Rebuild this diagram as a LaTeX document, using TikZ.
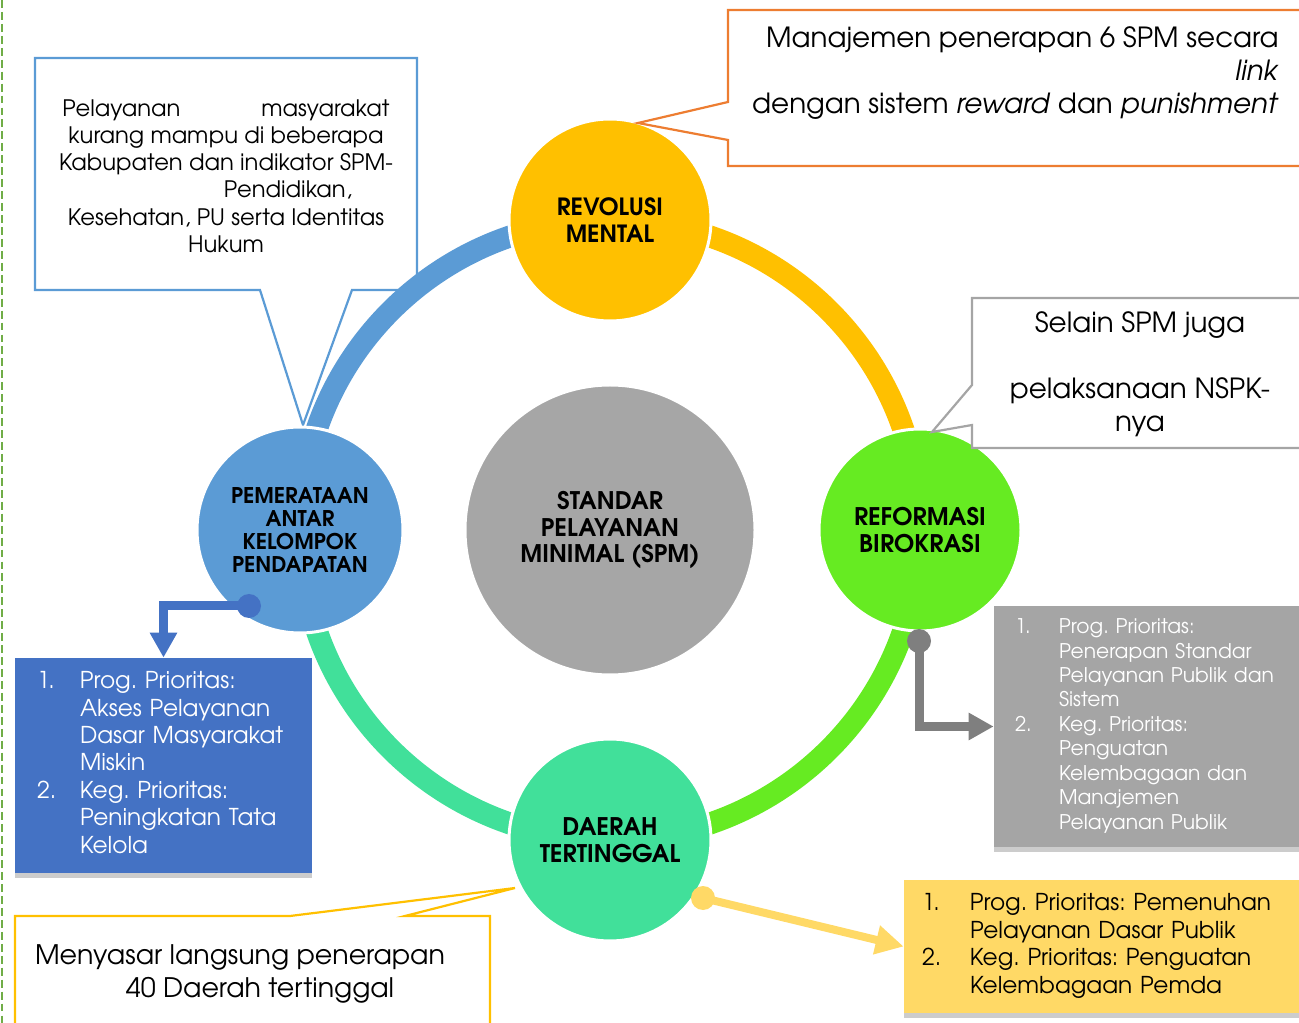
\documentclass[tikz,border=0pt]{standalone}
\usepackage{fontspec}
\setmainfont{TeX Gyre Adventor}
\usetikzlibrary{arrows.meta,shadows}
\frenchspacing
\newlength{\pxl}\setlength{\pxl}{0.02cm}
\definecolor{ringblue}{HTML}{5B9BD5}
\definecolor{ringyellow}{HTML}{FFC000}
\definecolor{ringlime}{HTML}{66EB22}
\definecolor{ringteal}{HTML}{41E09A}
\definecolor{spmgray}{HTML}{A6A6A6}
\definecolor{boxblue}{HTML}{4472C4}
\definecolor{boxgray}{HTML}{A5A5A5}
\definecolor{boxyellow}{HTML}{FFD966}
\definecolor{linkgray}{HTML}{7F7F7F}
\definecolor{calloutorange}{HTML}{ED7D31}
\definecolor{framegreen}{HTML}{70AD47}
\begin{document}
\begin{tikzpicture}[x=0.02cm,y=-0.02cm,
  bubble/.style={circle, draw=white, line width=3\pxl, inner sep=0pt, align=center,
    font=\bfseries\fontsize{13.8}{15.3}\selectfont},
  callout/.style={line width=2.2\pxl, fill=white},
  callouttext/.style={align=center, inner sep=0pt, font=\fontsize{15.8}{18.7}\selectfont},
  listbox/.style={align=left, inner ysep=0pt, drop shadow={shadow xshift=0pt, shadow yshift=-3pt, opacity=0.4}},
  connector/.style={line width=9\pxl, -{Triangle[length=14.2pt, width=14.7pt]}}]
\useasboundingbox (0,0) rectangle (1299,1023);
\clip (0,0) rectangle (1299,1023);

% frame line at the left edge
\draw[framegreen, line width=1.4pt, dash pattern=on 4.5pt off 2.3pt] (2,0) -- (2,1023);

% callout for the income-equality node (sits under the ring)
\draw[callout, draw=ringblue] (35,58) -- (417,58) -- (417,290) -- (352,290) -- (303,425) -- (260,290) -- (35,290) -- cycle;
\node[callouttext, font=\fontsize{12.9}{15.5}\selectfont] (tpem) at (226,176)
  {\makebox[327\pxl]{Pelayanan\hfill masyarakat}\\
   kurang mampu di beberapa\\
   Kabupaten dan indikator SPM-\\
   \hspace*{124\pxl}Pendidikan,\\
   Kesehatan, PU serta Identitas\\
   Hukum};

% the ring, one quarter per theme colour
\draw[ringblue, line width=22\pxl] (610,530) ++(180:310) arc[start angle=180, end angle=270, radius=310];
\draw[ringyellow, line width=22\pxl] (610,530) ++(270:310) arc[start angle=270, end angle=360, radius=310];
\draw[ringlime, line width=22\pxl] (610,530) ++(0:310) arc[start angle=0, end angle=90, radius=310];
\draw[ringteal, line width=22\pxl] (610,530) ++(90:310) arc[start angle=90, end angle=180, radius=310];

% circles
\node[bubble, fill=spmgray, minimum size=290\pxl] (spm) at (610,530) {STANDAR\\PELAYANAN\\MINIMAL (SPM)};
\node[bubble, fill=ringyellow, minimum size=202\pxl, font=\bfseries\fontsize{13.5}{14.9}\selectfont] (rev) at (610,220) {REVOLUSI\\MENTAL};
\node[bubble, fill=ringblue, minimum size=206\pxl, font=\bfseries\fontsize{12.3}{13.1}\selectfont] (pem) at (300,530) {PEMERATAAN\\ANTAR\\KELOMPOK\\PENDAPATAN};
\node[bubble, fill=ringlime, minimum size=202\pxl] (ref) at (920,530) {REFORMASI\\BIROKRASI};
\node[bubble, fill=ringteal, minimum size=202\pxl] (dae) at (610,840) {DAERAH\\TERTINGGAL};

% callouts
\draw[callout, draw=calloutorange] (728,10) -- (1310,10) -- (1310,166) -- (728,166) -- (728,140) -- (638,123) -- (728,102) -- cycle;
\node[callouttext, align=right, anchor=east] (trev) at (1279,73)
  {Manajemen penerapan 6 SPM secara\\
   \textit{link}\hspace*{10\pxl}\\
   dengan sistem \textit{reward} dan \textit{punishment}};

\draw[callout, draw=boxgray] (972,298) -- (1310,298) -- (1310,448) -- (972,448) -- (972,425) -- (932,432) -- (972,385) -- cycle;
\node[callouttext] (tref) at (1140,374)
  {Selain SPM juga\\ ~\\ pelaksanaan NSPK-\\ nya};

\draw[callout, draw=ringyellow] (15,916) -- (290,916) -- (515,888) -- (405,916) -- (490,916) -- (490,1030) -- (15,1030) -- cycle;
\node[callouttext, font=\fontsize{15.3}{18.7}\selectfont] (tdae) at (240,974)
  {Menyasar langsung penerapan\\ \hspace*{40\pxl}40 Daerah tertinggal};

% priority boxes
\node[listbox, fill=boxblue, text=white, text width=253\pxl, inner xsep=22\pxl, minimum height=215\pxl,
  font=\fontsize{13.2}{15.6}\selectfont] (bbox) at (163.5,765.5)
  {\begin{tabular}{@{}p{43\pxl}@{}l@{}}
   1. & Prog. Prioritas:\\
      & Akses Pelayanan\\
      & Dasar Masyarakat\\
      & Miskin\\
   2. & Keg. Prioritas:\\
      & Peningkatan Tata\\
      & Kelola
   \end{tabular}};

\node[listbox, fill=boxgray, text=white, text width=290\pxl, inner xsep=21\pxl, minimum height=241\pxl,
  font=\fontsize{11.5}{13.9}\selectfont] (gbox) at (1160,726.5)
  {\begin{tabular}{@{}p{44\pxl}@{}l@{}}
   1. & Prog. Prioritas:\\
      & Penerapan Standar\\
      & Pelayanan Publik dan\\
      & Sistem\\
   2. & Keg. Prioritas:\\
      & Penguatan\\
      & Kelembagaan dan\\
      & Manajemen\\
      & Pelayanan Publik
   \end{tabular}};

\node[listbox, fill=boxyellow, text=black, text width=364\pxl, inner xsep=18\pxl, minimum height=133\pxl,
  font=\fontsize{13.2}{15.6}\selectfont] (ybox) at (1104,946.5)
  {\begin{tabular}{@{}p{48\pxl}@{}l@{}}
   1. & Prog. Prioritas: Pemenuhan\\
      & Pelayanan Dasar Publik\\
   2. & Keg. Prioritas: Penguatan\\
      & Kelembagaan Pemda
   \end{tabular}};

% connectors from circles to their boxes
\coordinate (bdot) at (249,606);
\coordinate (gdot) at (919,641);
\coordinate (ydot) at (703,898);
\draw[connector, boxblue] (bdot) -| (bbox.north);
\fill[boxblue] (bdot) circle[radius=12\pxl];
\draw[connector, linkgray] (gdot) |- (gbox.west);
\fill[linkgray] (gdot) circle[radius=12\pxl];
\draw[connector, boxyellow, line width=8\pxl, -{Triangle[length=15.9pt, width=15.9pt]}] (ydot) -- (ybox.west);
\fill[boxyellow] (ydot) circle[radius=12\pxl];
\end{tikzpicture}
\end{document}
